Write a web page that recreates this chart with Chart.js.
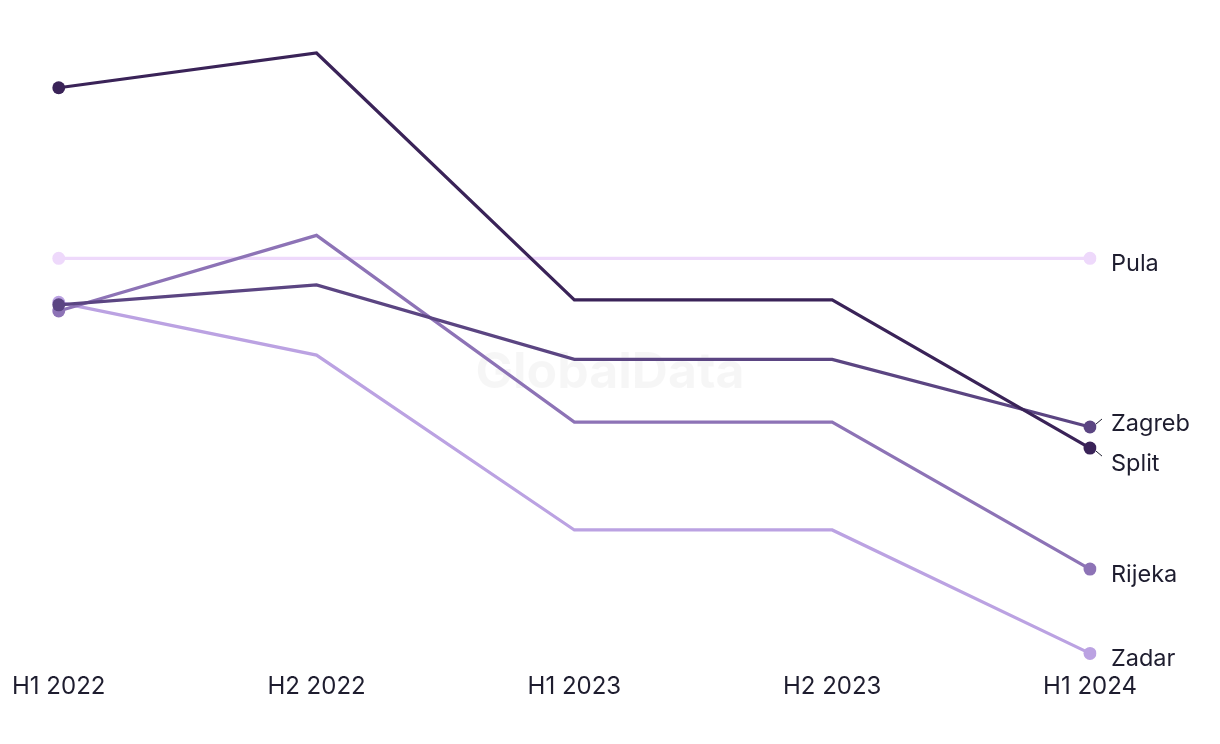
<!DOCTYPE html>
<html>
<head>
<meta charset="utf-8">
<script src="https://cdn.jsdelivr.net/npm/chart.js@4/dist/chart.umd.min.js"></script>
<style>
  html, body { margin: 0; padding: 0; background: #ffffff; }
  #wrap { width: 1220px; height: 744px; position: relative; }
</style>
</head>
<body>
<div id="wrap"><canvas id="c" width="1220" height="744"></canvas></div>
<script>
const categories = ["H1 2022", "H2 2022", "H1 2023", "H2 2023", "H1 2024"];
const splitValues  = [92.3, 97.9, 58.1, 58.1, 34.2];
const zagrebValues = [57.3, 60.5, 48.5, 48.5, 37.6];
const pulaValues   = [64.8, 64.8, 64.8, 64.8, 64.8];
const rijekaValues = [56.3, 68.5, 38.4, 38.4, 14.7];
const zadarValues  = [57.7, 49.2, 21.0, 21.0, 1.1];
const seriesNames  = ["Split", "Zagreb", "Rijeka", "Zadar", "Pula"];
const seriesColors = ["#3a2358", "#5b4582", "#8d73b6", "#bba2e2", "#eed9fb"];
const seriesData   = [splitValues, zagrebValues, rijekaValues, zadarValues, pulaValues];

const textColor = "#1e1d2f";
const FONT = "Inter, 'Noto Sans', sans-serif";

const watermark = {
  id: "watermark",
  beforeDatasetsDraw(chart) {
    const { ctx } = chart;
    ctx.save();
    ctx.font = "bold 50px " + FONT;
    ctx.fillStyle = "rgba(0,0,0,0.035)";
    ctx.textAlign = "center";
    ctx.textBaseline = "middle";
    ctx.fillText("GlobalData", 610, 373);
    ctx.restore();
  }
};

const endLabels = {
  id: "endLabels",
  afterDatasetsDraw(chart) {
    const { ctx } = chart;
    const items = chart.data.datasets.map((ds, i) => {
      const meta = chart.getDatasetMeta(i);
      const pt = meta.data[meta.data.length - 1];
      return { label: ds.label, x: pt.x, py: pt.y, y: pt.y, color: ds.borderColor };
    }).sort((a, b) => a.py - b.py);
    const gap = 40;
    let groups = items.map(it => ({ members: [it], center: it.py }));
    let changed = true;
    while (changed) {
      changed = false;
      for (let i = 0; i < groups.length - 1; i++) {
        const a = groups[i], b = groups[i + 1];
        const aBottom = a.center + (a.members.length - 1) * gap / 2;
        const bTop = b.center - (b.members.length - 1) * gap / 2;
        if (bTop - aBottom < gap) {
          const members = a.members.concat(b.members);
          const center = members.reduce((s, m) => s + m.py, 0) / members.length;
          groups.splice(i, 2, { members, center });
          changed = true;
          break;
        }
      }
    }
    groups.forEach(g => {
      g.members.forEach((m, k) => {
        m.y = g.center + (k - (g.members.length - 1) / 2) * gap;
      });
    });
    ctx.save();
    ctx.font = "23.5px " + FONT;
    ctx.fillStyle = textColor;
    ctx.textAlign = "left";
    ctx.textBaseline = "middle";
    items.forEach(it => {
      const ly = it.y + 6;
      if (Math.abs(it.y - it.py) > 1) {
        ctx.strokeStyle = textColor;
        ctx.lineWidth = 1;
        const dir = it.y > it.py ? 1 : -1;
        ctx.beginPath();
        ctx.moveTo(it.x + 6, it.py + dir * 3);
        ctx.lineTo(it.x + 12, it.py + dir * 8);
        ctx.stroke();
      }
      ctx.fillText(it.label, it.x + 21, ly);
    });
    ctx.restore();
  }
};

new Chart(document.getElementById("c"), {
  type: "line",
  data: {
    labels: categories,
    datasets: seriesNames.map((name, i) => ({
      label: name,
      data: seriesData[i],
      borderColor: seriesColors[i],
      backgroundColor: seriesColors[i],
      pointBackgroundColor: seriesColors[i],
      pointBorderWidth: 0,
      borderWidth: 3.2,
      pointRadius: ctx => (ctx.dataIndex === 0 || ctx.dataIndex === categories.length - 1) ? 6.5 : 0,
      pointHoverRadius: 6.5,
      tension: 0,
      fill: false
    }))
  },
  options: {
    responsive: false,
    animation: false,
    devicePixelRatio: 1,
    layout: { padding: { left: 58, right: 130, top: 40, bottom: 31 } },
    plugins: {
      legend: { display: false },
      tooltip: { enabled: false },
      title: { display: false }
    },
    scales: {
      x: {
        offset: false,
        grid: { display: false, drawTicks: false },
        border: { display: false },
        ticks: {
          color: textColor,
          font: { family: FONT, size: 24 },
          padding: 12,
          maxRotation: 0,
          autoSkip: false
        }
      },
      y: {
        display: false,
        min: 0,
        max: 100
      }
    }
  },
  plugins: [watermark, endLabels]
});
</script>
</body>
</html>
